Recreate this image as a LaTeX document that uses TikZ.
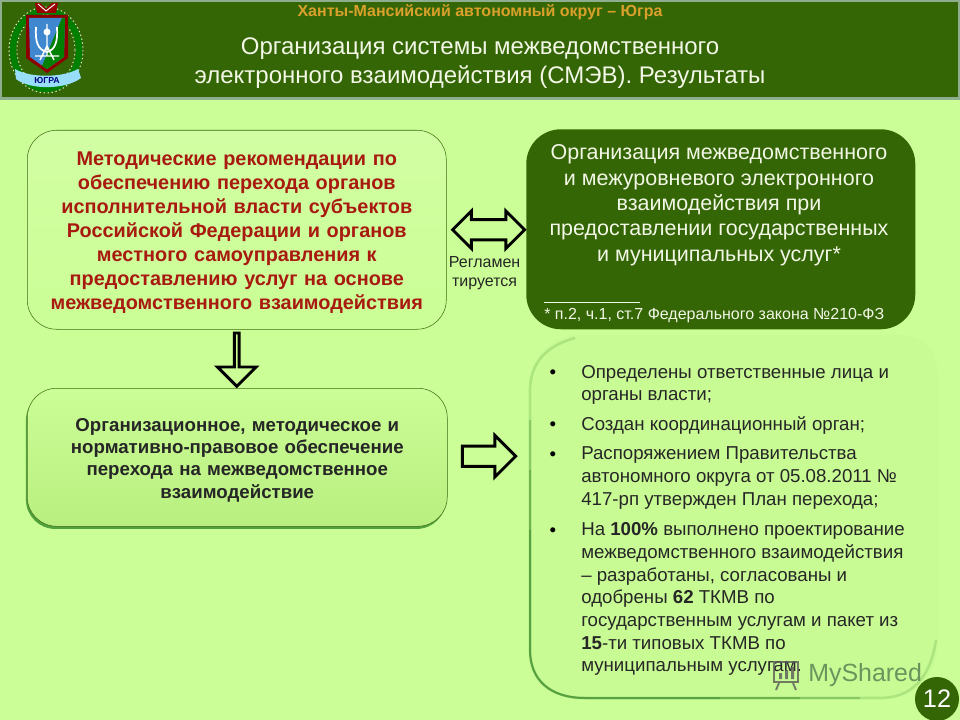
\documentclass[tikz,border=0pt]{standalone}
\usepackage{fontspec}
\setmainfont{Liberation Sans}
\usetikzlibrary{positioning,shapes.arrows,shapes.geometric,shadows}

\definecolor{slidegreen}{HTML}{CBFE96}
\definecolor{darkleaf}{HTML}{356605}
\definecolor{framegrey}{HTML}{8FAE8F}
\definecolor{boxline}{HTML}{3F6B14}
\definecolor{redtext}{HTML}{A81A10}
\definecolor{goldtext}{HTML}{D9A02C}
\definecolor{paletext}{HTML}{F2F7E6}
\definecolor{panelgreen}{HTML}{C9FB94}
\definecolor{lowgreen}{HTML}{B9EE80}
\definecolor{inktext}{HTML}{262626}
\definecolor{markgreen}{HTML}{5F8A58}

\begin{document}
\begin{tikzpicture}[x=0.75pt,y=-0.75pt,
    softbox/.style={draw=boxline, rounded corners=22pt, align=center, inner sep=0pt, text width=400*0.75pt, execute at begin node={\rule{0pt}{14pt}}},
    redbox/.style={softbox, top color=slidegreen!88!white, bottom color=slidegreen, minimum width=419*0.75pt, minimum height=199*0.75pt, text=redtext, font=\fontsize{14.9pt}{18pt}\selectfont\bfseries},
    shadowbox/.style={softbox, top color=slidegreen, bottom color=lowgreen, minimum width=420*0.75pt, minimum height=138*0.75pt, text=inktext, font=\fontsize{14pt}{16.7pt}\selectfont\bfseries, drop shadow={shadow xshift=-1pt, shadow yshift=-2pt, fill=black!60!green, opacity=0.6}},
    darkbox/.style={fill=darkleaf, rounded corners=26pt, minimum width=389*0.75pt, minimum height=200*0.75pt},
    hollow/.style={draw=black, line width=2.2pt, fill=slidegreen, inner xsep=0pt, inner ysep=6.5pt},
    rightarrow/.style={hollow, single arrow, single arrow head extend=8pt, minimum height=40pt, minimum width=29pt},
    bothways/.style={hollow, double arrow, double arrow head extend=6.5pt, minimum height=54pt, minimum width=26pt},
    point/.style={align=left, anchor=north west, inner sep=0pt, font=\fontsize{14pt}{17pt}\selectfont, text=inktext},
    dot/.style={anchor=north, inner sep=0pt, font=\fontsize{14pt}{17pt}\selectfont}
]

\useasboundingbox (0,0) rectangle (960,720);
\fill[slidegreen] (0,0) rectangle (960,720);

% Header
\draw[fill=darkleaf, draw=framegrey, line width=1.8pt] (1,1) rectangle (959,98.5);
\node[font=\fontsize{12pt}{13pt}\selectfont\bfseries, text=goldtext] (region) at (480,12) {Ханты-Мансийский автономный округ – Югра};
\node[align=center, text=paletext, font=\fontsize{18pt}{21.75pt}\selectfont] (title) at (480,63.5) {Организация системы межведомственного\\электронного взаимодействия (СМЭВ). Результаты};

% Emblem
\draw[green!50!black, line width=4.5pt] (46,50) ellipse (33 and 39);
\draw[white!85!green, line width=0.7pt, dash pattern=on 1pt off 2pt] (46,50) ellipse (37 and 43);
\draw[white!85!green, line width=0.7pt, dash pattern=on 1pt off 2pt] (46,50) ellipse (29 and 35);
\fill[red!55!black] (26,15) -- (68,15) -- (68,58) -- (47,73) -- (26,58) -- cycle;
\fill[red!60!black] (35,3) -- (40,3) -- (46,9) -- (52,3) -- (58,3) -- (56,13) -- (37,13) -- cycle;
\draw[white, line width=0.7pt] (38,4) -- (46,11) -- (55,4);
\fill[cyan!55!blue!80!white] (29,18) -- (65,18) -- (64,57) -- (47,69) -- (30,57) -- cycle;
\fill[green!50!black] (62,18) -- (65,18) -- (64,57) -- (47,69) -- (42,66) -- cycle;
\draw[white, line width=1.3pt] (36,27) .. controls (35,42) and (38,50) .. (47,52) .. controls (55,50) and (58,42) .. (57,27);
\draw[white, line width=1.1pt] (47,24) -- (47,56) (40,60) -- (47,46) -- (54,60) (35,56) -- (59,56);
\fill[white] (47,32) circle (3.5);
\fill[cyan!40!white] (15,69) .. controls (30,78) and (62,78) .. (78,69) -- (81,78) .. controls (65,90) and (30,90) .. (16,79) -- cycle;
\node[font=\fontsize{6.5pt}{7pt}\selectfont\bfseries, text=blue!50!black, inner sep=0pt] (motto) at (47,81) {ЮГРА};

% Left column
\node[redbox, anchor=north west] (methods) at (27,130) {Методические рекомендации по\\обеспечению перехода органов\\исполнительной власти субъектов\\Российской Федерации и органов\\местного самоуправления к\\предоставлению услуг на основе\\межведомственного взаимодействия};
\node[rightarrow, shape border rotate=270, below=1.5pt of methods] (down) {};
\node[shadowbox, anchor=north west] (support) at (27,388) {Организационное, методическое и\\нормативно-правовое обеспечение\\перехода на межведомственное\\взаимодействие};
\node[rightarrow, right=10pt of support, yshift=0.8pt] (onward) {};

% Right column
\node[darkbox, anchor=north west] (scheme) at (526,129) {};
\node[align=center, text=paletext, font=\fontsize{16.1pt}{19pt}\selectfont, anchor=north] (schemetext) at (719,140) {Организация межведомственного\\и межуровневого электронного\\взаимодействия при\\предоставлении государственных\\и муниципальных услуг*};
\node[text=paletext, font=\fontsize{12pt}{13pt}\selectfont, anchor=west, inner sep=0pt] (note) at (544,316) {* п.2, ч.1, ст.7 Федерального закона №210-ФЗ};
\draw[paletext, line width=0.6pt] (544,302) -- (640,302);
\node[bothways, right=3pt of methods] (link) {};
\node[below=11pt of link, xshift=-3pt, align=center, inner sep=0pt, text=inktext, font=\fontsize{12pt}{14.4pt}\selectfont] (linklabel) {Регламен\\тируется};

% Results panel
\fill[panelgreen]
  (530,390) .. controls (530,355) and (550,335) .. (585,335) -- (900,335) .. controls (925,335) and (938,350) .. (938,380) -- (938,640) .. controls (938,675) and (918,698) .. (880,698) -- (585,698) .. controls (550,698) and (530,680) .. (530,650) -- cycle;
\draw[green!40!black, opacity=0.14, line width=2pt]
  (575,338) .. controls (548,345) and (530,362) .. (530,390) -- (530,650) .. controls (530,680) and (550,698) .. (585,698) -- (880,698) .. controls (910,698) and (930,680) .. (936,640);
\foreach \from/\till in {420/860,470/800,530/720}
  \draw[green!35!black, opacity=0.2, line width=1.5pt]
    (530,\from) -- (530,650) .. controls (530,680) and (550,698) .. (585,698) -- (\till,698);
\node[point] (item1) at (581,365) {Определены ответственные лица и\\органы власти;};
\node[point, below=8.5pt of item1.south west, anchor=north west] (item2) {Создан координационный орган;};
\node[point, below=9pt of item2.south west, anchor=north west] (item3) {Распоряжением Правительства\\автономного округа от 05.08.2011 №\\417-рп утвержден План перехода;};
\node[point, below=10pt of item3.south west, anchor=north west] (item4) {На \textbf{100\%} выполнено проектирование\\межведомственного взаимодействия\\– разработаны, согласованы и\\одобрены \textbf{62} ТКМВ по\\государственным услугам и пакет из\\\textbf{15}-ти типовых ТКМВ по\\муниципальным услугам.};
\foreach \i in {1,2,3,4}
  \node[dot] at ([xshift=-21pt,yshift=-3.75pt]item\i.north west) {•};

% Site mark
\node[text=markgreen, opacity=0.9, font=\fontsize{18.7pt}{22pt}\selectfont, anchor=west, inner sep=0pt] (mark) at (808,675) {MyShared};
\draw[black!65, line width=1.4pt, opacity=0.8] (774,662) rectangle (798,682) (779,683) -- (776,690) (793,683) -- (796,690);
\fill[black!65, opacity=0.8] (779,673) rectangle (782,679) (785,670) rectangle (788,679) (791,667) rectangle (794,679);

% Slide number
\node[circle, fill=darkleaf, text=white, minimum size=44*0.75pt, inner sep=0pt, font=\fontsize{19pt}{20pt}\selectfont] (number) at (937,699) {12};

\end{tikzpicture}
\end{document}
